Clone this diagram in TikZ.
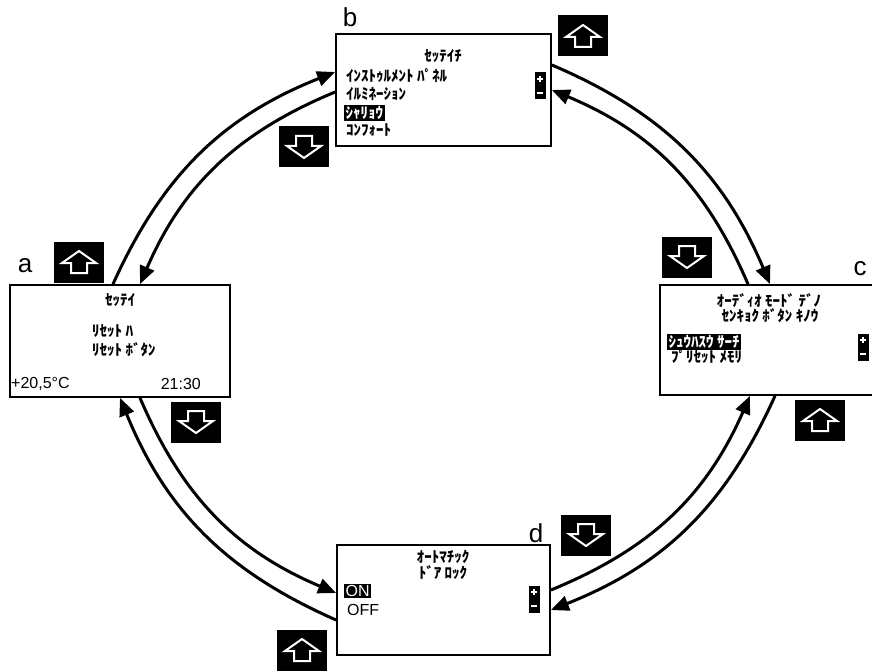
\documentclass[tikz,border=0pt]{standalone}
\usepackage{fontspec}
\setmainfont{Liberation Sans}
\newfontfamily\jpfont{Noto Sans CJK JP}
\usepackage{tikz}
\usetikzlibrary{arrows.meta}

\begin{document}
\begin{tikzpicture}[x=1pt, y=1pt,
  screen/.style={draw, line width=1.8pt, inner sep=0pt},
  kana/.style={font=\jpfont\bfseries\fontsize{15}{17}\selectfont, inner sep=0pt},
  lcd/.style={font=\fontsize{16}{18}\selectfont, inner sep=0pt},
  hl/.style={fill=black, text=white, inner sep=1.5pt},
  lbl/.style={font=\fontsize{26}{28}\selectfont, inner sep=0pt},
  btn/.style={fill=black, minimum width=50pt, minimum height=41pt, inner sep=0pt},
  upbtn/.style={btn, path picture={\draw[white, line width=2pt, shift={(path picture bounding box.center)}]
    (0,11) -- (17,-1) -- (8,-1) -- (8,-11) -- (-8,-11) -- (-8,-1) -- (-17,-1) -- cycle;}},
  downbtn/.style={btn, path picture={\draw[white, line width=2pt, shift={(path picture bounding box.center)}]
    (0,-11) -- (17,1) -- (8,1) -- (8,11) -- (-8,11) -- (-8,1) -- (-17,1) -- cycle;}},
  pm/.style={fill=black, minimum width=11pt, minimum height=27pt, inner sep=0pt,
    path picture={\draw[white, line width=1.4pt, shift={(path picture bounding box.center)}]
    (-3,7) -- (3,7) (0,4) -- (0,10) (-3,-7) -- (3,-7);}},
  conn/.style={line width=3pt, -{Triangle[length=18pt,width=15pt]}}
]
\useasboundingbox (0,0) rectangle (872,-671);

% Screen a
\node[screen, minimum width=220pt, minimum height=112pt] (a) at (120,-341) {};
\node[lbl] (la) at (25,-266) {a};
\node[kana] (aTitle) at (120,-300) {ｾｯﾃｲ};
\node[kana, anchor=west] (aL1) at (92,-331) {ﾘｾｯﾄ ﾊ};
\node[kana, anchor=west] (aL2) at (92,-350) {ﾘｾｯﾄ ﾎﾞﾀﾝ};
\node[lcd, anchor=west] (aTemp) at (11,-384) {+20,5°C};
\node[lcd, anchor=east] (aTime) at (201,-384) {21:30};
\node[upbtn] (upA) at (79,-262) {};
\node[downbtn] (downA) at (196,-422) {};

% Screen b
\node[screen, minimum width=215pt, minimum height=112pt] (b) at (443.5,-90) {};
\node[lbl] (lb) at (350,-17) {b};
\node[kana] (bTitle) at (443,-56) {ｾｯﾃｲﾁ};
\node[kana, anchor=west] (bL1) at (346,-76) {ｲﾝｽﾄｩﾙﾒﾝﾄ ﾊﾟﾈﾙ};
\node[kana, anchor=west] (bL2) at (346,-94) {ｲﾙﾐﾈｰｼｮﾝ};
\node[kana, hl, anchor=west] (bL3) at (344,-113) {ｼｬﾘｮｳ};
\node[kana, anchor=west] (bL4) at (346,-130) {ｺﾝﾌｫｰﾄ};
\node[pm] (bPM) at (540,-86) {};
\node[upbtn] (upB) at (583,-36) {};
\node[downbtn] (downB) at (304,-147) {};

% Screen c
\node[screen, minimum width=216pt, minimum height=110pt] (c) at (768,-340) {};
\node[lbl] (lc) at (860,-269) {c};
\node[kana] (cL1) at (769,-301) {ｵｰﾃﾞｨｵ ﾓｰﾄﾞ ﾃﾞﾉ};
\node[kana] (cL2) at (770,-316) {ｾﾝｷｮｸ ﾎﾞﾀﾝ ｷﾉｳ};
\node[kana, hl, anchor=west] (cL3) at (667,-342) {ｼｭｳﾊｽｳ ｻｰﾁ};
\node[kana, anchor=west] (cL4) at (671,-357) {ﾌﾟﾘｾｯﾄ ﾒﾓﾘ};
\node[pm] (cPM) at (863,-347) {};
\node[downbtn] (downC) at (687,-257) {};
\node[upbtn] (upC) at (820,-420) {};

% Screen d
\node[screen, minimum width=213pt, minimum height=110pt] (d) at (443.5,-600) {};
\node[lbl] (ld) at (536,-533) {d};
\node[kana] (dL1) at (443,-557) {ｵｰﾄﾏﾁｯｸ};
\node[kana] (dL2) at (443,-573) {ﾄﾞｱ ﾛｯｸ};
\node[lcd, hl, anchor=west] (dOn) at (344,-591) {ON};
\node[lcd, anchor=west] (dOff) at (347,-610) {OFF};
\node[pm] (dPM) at (534,-599) {};
\node[downbtn] (downD) at (586,-535) {};
\node[upbtn] (upD) at (302,-650) {};

% a <-> b
\draw[conn] ([xshift=-7pt]a.north) to[bend left=22] ([yshift=18pt]b.west);
\draw[conn] ([yshift=-2pt]b.west) to[bend right=22] ([xshift=20pt]a.north);

% b <-> c
\draw[conn] ([yshift=25pt]b.east) to[bend left=22] ([xshift=2pt]c.north);
\draw[conn] ([xshift=-20pt]c.north) to[bend right=22] (b.east);

% c <-> d
\draw[conn] ([xshift=7pt]c.south) to[bend left=22] ([yshift=-10pt]d.east);
\draw[conn] ([yshift=10pt]d.east) to[bend right=22] ([xshift=-18pt]c.south);

% d <-> a
\draw[conn] ([yshift=-20pt]d.west) to[bend left=22] (a.south);
\draw[conn] ([xshift=20pt]a.south) to[bend right=22] ([yshift=7pt]d.west);

\end{tikzpicture}
\end{document}
